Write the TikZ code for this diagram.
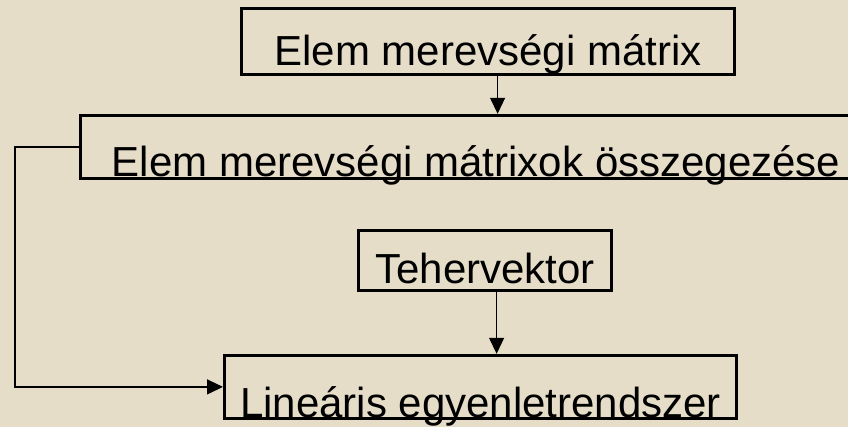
\documentclass[tikz,border=0pt]{standalone}
\usepackage{fontspec}
\setmainfont{Liberation Sans}
\usetikzlibrary{arrows.meta}
\definecolor{beige}{RGB}{229,221,200}
\begin{document}
\begin{tikzpicture}[x=1pt,y=-1pt,
                        box/.style={
                        draw, line width=3.2pt,
                        inner sep=0pt,
                        anchor=south west,
                        font=\fontsize{42}{48}\selectfont},
                        arr/.style={line width=1.3pt, -{Triangle[length=16pt,width=15pt]}}]
                        \useasboundingbox (0,0) rectangle (848,427);
                        \fill [beige] (0,0) rectangle (848,427);
                        \node [box, minimum width=493pt, text height=57pt, text depth=9pt] (elem) at (240,76) {Elem merevségi mátrix};
                        \node [box, minimum width=791pt, text height=61pt, text depth=2pt] (osszeg) at (79,180) {Elem merevségi mátrixok összegezése};
                        \node [box, minimum width=253pt, text height=53pt, text depth=7pt] (teher) at (357,292) {Tehervektor};
                        \node [box, minimum width=512pt, text height=62pt, text depth=1pt] (linear) at (223,420) {Lineáris egyenletrendszer};
                        \draw [arr] ([xshift=9.5pt]elem.south) -- ([xshift=9.5pt]elem.south |- osszeg.north);
                        \draw [arr] ([xshift=11.5pt]teher.south) -- ([xshift=11.5pt]teher.south |- linear.north);
                        \draw [arr] (osszeg.west) -- ++(-64,0) |- (linear.west);
                \end{tikzpicture}
\end{document}
